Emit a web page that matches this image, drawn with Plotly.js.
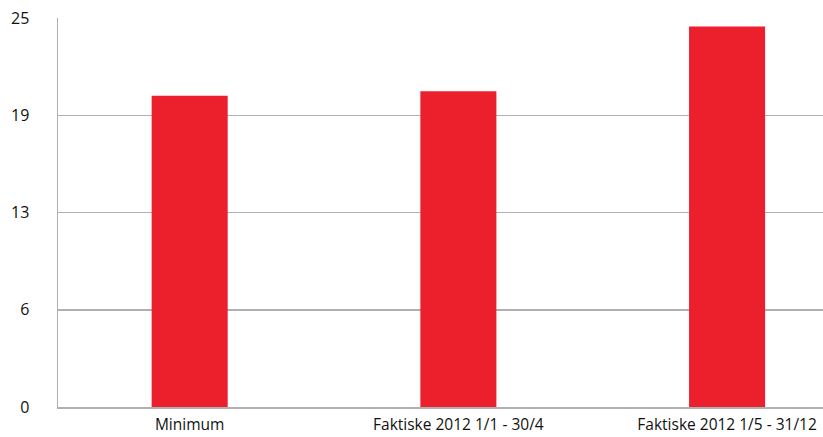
<!DOCTYPE html>
<html><head><meta charset="utf-8">
<script src="https://cdn.plot.ly/plotly-3.0.1.min.js"></script>
<style>html,body{margin:0;padding:0;background:#fff}#chart{width:823px;height:437px}</style>
</head><body><div id="chart"></div>
<script>
const categories = ["Minimum", "Faktiske 2012 1/1 - 30/4", "Faktiske 2012 1/5 - 31/12"];
const values = [20.0, 20.3, 24.45];
const yTickVals = [0, 6.25, 12.5, 18.75, 25];
const yTickText = ["0", "6", "13", "19", "25"];

Plotly.newPlot("chart", [{
  type: "bar",
  x: categories,
  y: values,
  width: 0.283,
  marker: {color: "#ec1f2d"},
  hoverinfo: "x+y"
}], {
  width: 823, height: 437,
  margin: {l: 58, r: 0, t: 18, b: 30},
  paper_bgcolor: "#fff", plot_bgcolor: "#fff",
  showlegend: false,
  font: {family: "Open Sans, Noto Sans, sans-serif", color: "#111", size: 14},
  xaxis: {
    type: "category",
    range: [-0.49, 2.357],
    showgrid: false,
    showline: true, linecolor: "#b0b0b0", linewidth: 1.5,
    ticks: "outside", ticklen: 0, ticklabelstandoff: 3,
    tickfont: {size: 15.5, color: "#111"},
    fixedrange: true
  },
  yaxis: {
    range: [0, 25],
    tickvals: yTickVals, ticktext: yTickText,
    showgrid: true, gridcolor: "#b0b0b0", gridwidth: 1.5,
    zeroline: false,
    showline: true, linecolor: "#b0b0b0", linewidth: 1.5,
    ticks: "outside", ticklen: 0, ticklabelstandoff: 24,
    tickfont: {size: 16, color: "#111"},
    fixedrange: true
  }
}, {displayModeBar: false, staticPlot: true});
</script></body></html>
